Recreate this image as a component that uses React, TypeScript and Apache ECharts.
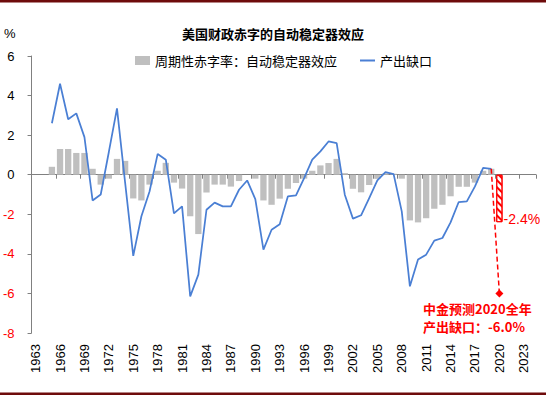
import React, { useEffect, useRef } from "react";
import * as echarts from "echarts";

const years = [
  "1963", "1964", "1965", "1966", "1967", "1968", "1969", "1970", "1971", "1972",
  "1973", "1974", "1975", "1976", "1977", "1978", "1979", "1980", "1981", "1982",
  "1983", "1984", "1985", "1986", "1987", "1988", "1989", "1990", "1991", "1992",
  "1993", "1994", "1995", "1996", "1997", "1998", "1999", "2000", "2001", "2002",
  "2003", "2004", "2005", "2006", "2007", "2008", "2009", "2010", "2011", "2012",
  "2013", "2014", "2015", "2016", "2017", "2018", "2019", "2020", "2021", "2022",
  "2023", "2024",
];

const dataStartYear = 1965;

// 产出缺口 (1965-2019)
const outputGap = [
  2.6, 4.6, 2.8, 3.1, 1.9, -1.3, -1.0, 1.15, 3.35, -0.4,
  -4.1, -2.1, -0.85, 1.05, 0.76, -1.95, -1.6, -6.15, -5.05, -1.77,
  -1.41, -1.6, -1.6, -0.76, -0.29, -1.23, -3.79, -2.78, -2.5, -1.1,
  -1.04, -0.17, 0.76, 1.18, 1.68, 1.6, -1.01, -2.22, -2.05, -1.18,
  -0.29, 0.13, 0.03, -1.85, -5.64, -4.29, -4.04, -3.33, -3.2, -2.41,
  -1.38, -1.35, -0.59, 0.35, 0.3,
];

// 周期性赤字率：自动稳定器效应 (1965-2019)
const cyclicalDeficit = [
  0.4, 1.3, 1.3, 1.1, 1.1, 0.3, -0.5, -0.2, 0.8, 0.7,
  -1.2, -1.3, -0.5, 0.2, 0.6, -0.4, -0.7, -2.1, -3.0, -0.9,
  -0.5, -0.5, -0.6, -0.32, 0.0, -0.2, -1.3, -1.52, -1.21, -0.71,
  -0.42, -0.2, 0.2, 0.47, 0.59, 0.8, 0.08, -0.71, -0.89, -0.52,
  -0.21, 0.07, 0.05, -0.2, -2.31, -2.41, -2.2, -1.72, -1.52, -1.09,
  -0.61, -0.61, -0.4, 0.2, 0.3,
];

const forecastYear = "2020";
const forecastDeficit = -2.4;
const forecastGap = -6.0;

const yMin = -8;
const yMax = 6;
const yInterval = 2;

const barName = "周期性赤字率：自动稳定器效应";
const lineName = "产出缺口";
const titleText = "美国财政赤字的自动稳定器效应";

export default function App() {
  const ref = useRef<HTMLDivElement>(null);

  useEffect(() => {
    const chart = echarts.init(ref.current!, null, { renderer: "svg" });

    const pad = (arr: number[]) =>
      years.map((y) => {
        const i = Number(y) - dataStartYear;
        return i >= 0 && i < arr.length ? arr[i] : null;
      });

    const fIdx = years.indexOf(forecastYear);
    const lastIdx = fIdx - 1;
    const forecastBar = years.map((_, i) => (i === fIdx ? forecastDeficit : null));
    const dashedData: any[] = years.map((_, i) => {
      if (i === lastIdx) return { value: outputGap[outputGap.length - 1], symbol: "none" };
      if (i === fIdx) return { value: forecastGap, symbol: "diamond", symbolSize: 8 };
      return null;
    });

    const font = '"Liberation Sans", Arial, sans-serif';
    const cjk = '"Noto Sans CJK SC", sans-serif';
    const legendText = { fontSize: 13, color: "#000", fontFamily: cjk };

    chart.setOption({
      animation: false,
      backgroundColor: "#ffffff",
      title: {
        text: titleText,
        left: "center",
        top: 27,
        padding: 0,
        textStyle: { fontSize: 13, fontWeight: "bold", color: "#000", fontFamily: cjk },
      },
      legend: [
        {
          left: 135,
          top: 54,
          padding: 0,
          itemWidth: 15,
          itemHeight: 9,
          textStyle: legendText,
          data: [{ name: barName, icon: "rect" }],
        },
        {
          left: 360,
          top: 54,
          padding: 0,
          itemWidth: 15,
          itemHeight: 2,
          textStyle: legendText,
          data: [{ name: lineName, icon: "rect", itemStyle: { color: "#4A7FD4" } }],
        },
      ],
      grid: { left: 31, right: 10, top: 56, bottom: 63, containLabel: false },
      xAxis: [
        {
          type: "category",
          data: years,
          position: "bottom",
          boundaryGap: true,
          axisLine: { show: false, onZero: false },
          axisTick: { show: false },
          axisLabel: {
            interval: 2,
            rotate: 90,
            margin: 11,
            fontSize: 13,
            color: "#000",
            fontFamily: font,
          },
        },
        {
          type: "category",
          data: years,
          position: "bottom",
          boundaryGap: true,
          axisLine: { show: true, onZero: true, lineStyle: { color: "#808080", width: 1 } },
          axisTick: { show: true, interval: 2, length: 4, lineStyle: { color: "#808080" } },
          axisLabel: { show: false },
        },
      ],
      yAxis: {
        type: "value",
        min: yMin,
        max: yMax,
        interval: yInterval,
        splitLine: { show: false },
        axisLine: { show: true, lineStyle: { color: "#808080" } },
        axisTick: { show: true, length: 4, lineStyle: { color: "#808080" } },
        axisLabel: {
          margin: 17,
          fontSize: 13,
          fontFamily: font,
          color: (v: any) => (Number(v) < 0 ? "#FF0000" : "#000"),
        },
      },
      graphic: [
        { type: "rect", shape: { x: 0, y: 0, width: 546, height: 2.5 }, style: { fill: "#6E0B0B" } },
        { type: "rect", shape: { x: 0, y: 392.5, width: 546, height: 2.5 }, style: { fill: "#6E0B0B" } },
        {
          type: "text",
          left: 4,
          top: 27,
          style: { text: "%", fill: "#000", font: '13px "Liberation Sans", Arial, sans-serif' },
        },
        {
          type: "text",
          left: 423,
          top: 299,
          style: {
            text: `中金预测${forecastYear}全年\n产出缺口：${forecastGap.toFixed(1)}%`,
            fill: "#FF0000",
            font: 'bold 13px "Noto Sans CJK SC", sans-serif',
            lineHeight: 18,
          },
        },
      ],
      series: [
        {
          name: barName,
          type: "bar",
          data: pad(cyclicalDeficit),
          barWidth: 6.3,
          barGap: "-100%",
          itemStyle: { color: "#BFBFBF" },
          z: 2,
        },
        {
          name: "预测",
          type: "bar",
          data: forecastBar,
          barWidth: 6.3,
          barGap: "-100%",
          itemStyle: {
            color: "#ffffff",
            borderColor: "#FF0000",
            borderWidth: 1,
            decal: {
              symbol: "rect",
              symbolSize: 1,
              color: "#FF0000",
              dashArrayX: [1, 0],
              dashArrayY: [1.5, 2.5],
              rotation: Math.PI / 4,
            },
          },
          label: {
            show: true,
            position: "right",
            distance: 1,
            offset: [0, 21],
            formatter: (p: any) => `${p.value}%`,
            color: "#FF0000",
            fontSize: 14,
            fontFamily: font,
          },
          z: 3,
        },
        {
          name: lineName,
          type: "line",
          data: pad(outputGap),
          symbol: "none",
          lineStyle: { color: "#4A7FD4", width: 1.75 },
          itemStyle: { color: "#4A7FD4" },
          z: 4,
        },
        {
          name: "预测缺口",
          type: "line",
          data: dashedData,
          connectNulls: false,
          showSymbol: true,
          lineStyle: { color: "#FF0000", width: 1.5, type: [5, 3] },
          itemStyle: { color: "#FF0000" },
          z: 5,
        },
      ],
    });

    return () => chart.dispose();
  }, []);

  return (
    <div
      ref={ref}
      style={{ position: "fixed", left: 0, top: 0, width: 546, height: 396 }}
    />
  );
}
